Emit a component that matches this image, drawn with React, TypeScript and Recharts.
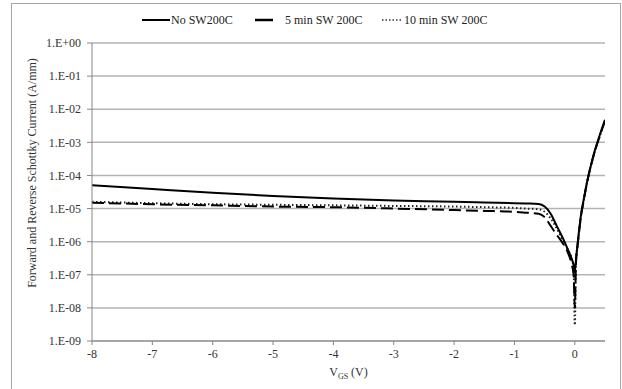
import React from "react";
import { LineChart, Line, XAxis, YAxis, CartesianGrid } from "recharts";

// gate voltage (V)
const vgs = [-8, -7, -6, -5, -4, -3, -2, -1.5, -1, -0.8, -0.6, -0.5, -0.4, -0.3, -0.2, -0.1, -0.05, -0.02, 0, 0.02, 0.05, 0.1, 0.15, 0.2, 0.3, 0.4, 0.5];

// current (A/mm)
const noSw = [5.1e-5, 3.9e-5, 3.0e-5, 2.4e-5, 2.0e-5, 1.75e-5, 1.6e-5, 1.52e-5, 1.45e-5, 1.42e-5, 1.38e-5, 1.15e-5, 7e-6, 3e-6, 1.3e-6, 5e-7, 3e-7, 2e-7, 1.2e-7, 3e-7, 1e-6, 6e-6, 2e-5, 6e-5, 3.5e-4, 1.4e-3, 4.8e-3];
const min5 = [1.5e-5, 1.35e-5, 1.25e-5, 1.15e-5, 1.1e-5, 1.0e-5, 9e-6, 8.5e-6, 8e-6, 7.5e-6, 7e-6, 5.5e-6, 3e-6, 1.6e-6, 9e-7, 4e-7, 2e-7, 1e-7, 1e-8, 2.5e-7, 9e-7, 5.5e-6, 1.9e-5, 5.8e-5, 3.4e-4, 1.3e-3, 4.5e-3];
const min10 = [1.6e-5, 1.45e-5, 1.35e-5, 1.3e-5, 1.25e-5, 1.2e-5, 1.15e-5, 1.1e-5, 1.05e-5, 1.0e-5, 9.5e-6, 8e-6, 5e-6, 2.5e-6, 1.1e-6, 5e-7, 3e-7, 1.5e-7, 3e-9, 2.5e-7, 9e-7, 5.5e-6, 1.9e-5, 5.8e-5, 3.4e-4, 1.3e-3, 4.5e-3];

const xTicks = [-8, -7, -6, -5, -4, -3, -2, -1, 0];
const yTicks = [1e-9, 1e-8, 1e-7, 1e-6, 1e-5, 1e-4, 1e-3, 1e-2, 1e-1, 1];

const xMinor: number[] = [];
for (let i = -40; i <= 2; i++) xMinor.push(i / 5);
const yMinor: number[] = [];
for (let e = -9; e < 0; e++) for (let m = 2; m <= 9; m++) yMinor.push(m * Math.pow(10, e));

const data = vgs.map((v, i) => ({ v, a: noSw[i], b: min5[i], c: min10[i] }));

const font = "'Liberation Serif', 'Times New Roman', serif";
const axisGray = "#868686";

const fmtExp = (val: number) => {
  const e = Math.round(Math.log10(val));
  return `1.E${e < 0 ? "-" : "+"}${String(Math.abs(e)).padStart(2, "0")}`;
};

const YLabel = (props: any) => {
  const vb = props.viewBox;
  const x = vb.x + 20;
  const y = vb.y + vb.height / 2 - 19;
  return (
    <text x={x} y={y} transform={`rotate(-90 ${x} ${y})`} textAnchor="middle" dominantBaseline="central"
      fontFamily={font} fontSize={12} fill="#333">
      Forward and Reverse Schottky Current (A/mm)
    </text>
  );
};

const XLabel = (props: any) => {
  const vb = props.viewBox;
  const x = vb.x + vb.width / 2;
  const y = vb.y + 35;
  return (
    <text x={x} y={y} textAnchor="middle" fontFamily={font} fontSize={12} fill="#333">
      V<tspan fontSize={8} dy={3}>GS</tspan><tspan dy={-3}> (V)</tspan>
    </text>
  );
};

const Legend = () => (
  <svg width={622} height={40} style={{ position: "absolute", left: 0, top: 0 }}>
    <g fontFamily={font} fontSize={12} fill="#222">
      <line x1={142} y1={20} x2={170} y2={20} stroke="#000" strokeWidth={2} />
      <text x={171} y={24}>No SW200C</text>
      <line x1={255} y1={20} x2={273} y2={20} stroke="#000" strokeWidth={2.5} />
      <text x={285} y={24}>5 min SW 200C</text>
      <line x1={382} y1={20} x2={401} y2={20} stroke="#333" strokeWidth={1.5} strokeDasharray="1.5 2" />
      <text x={404} y={24}>10 min SW 200C</text>
    </g>
  </svg>
);

export default function App() {
  return (
    <div style={{ position: "absolute", left: 0, top: 0, width: 622, height: 389, background: "#fff", overflow: "hidden" }}>
      <div style={{ position: "absolute", left: 11, top: 3, width: 608, height: 420, border: "1px solid #a6a6a6" }} />
      <div style={{ position: "absolute", left: 0, top: 0 }}>
        <LineChart width={622} height={389} data={data} margin={{ top: 43, right: 17, bottom: 18, left: 12 }}>
          <CartesianGrid vertical={false} stroke="#b3b3b3" strokeWidth={1.5} />
          <XAxis xAxisId="minor" dataKey="v" type="number" domain={[-8, 0.5]} allowDataOverflow ticks={xMinor}
            height={0} mirror axisLine={false} tickSize={3} tickLine={{ stroke: axisGray }} tickFormatter={() => ""} />
          <XAxis dataKey="v" type="number" domain={[-8, 0.5]} allowDataOverflow ticks={xTicks} height={30}
            tickSize={4} tickMargin={4} axisLine={{ stroke: axisGray }} tickLine={{ stroke: axisGray }}
            tick={{ fontFamily: font, fontSize: 12, fill: "#333" }} label={{ content: XLabel }} />
          <YAxis yAxisId="minor" type="number" scale="log" domain={[1e-9, 1]} allowDataOverflow ticks={yMinor}
            width={0} mirror axisLine={false} tickSize={3} tickLine={{ stroke: axisGray }} tickFormatter={() => ""} />
          <YAxis type="number" scale="log" domain={[1e-9, 1]} allowDataOverflow ticks={yTicks} width={80}
            tickSize={5} tickMargin={6} tickFormatter={fmtExp} axisLine={{ stroke: axisGray }} tickLine={{ stroke: axisGray }}
            tick={{ fontFamily: font, fontSize: 12, fill: "#333" }} label={{ content: YLabel }} />
          <Line dataKey="c" type="monotone" stroke="#222" strokeWidth={2} strokeDasharray="1.5 2.5" dot={false} isAnimationActive={false} />
          <Line dataKey="b" type="monotone" stroke="#000" strokeWidth={2} strokeDasharray="12 5" dot={false} isAnimationActive={false} />
          <Line dataKey="a" type="monotone" stroke="#000" strokeWidth={2} dot={false} isAnimationActive={false} />
        </LineChart>
      </div>
      <Legend />
    </div>
  );
}
